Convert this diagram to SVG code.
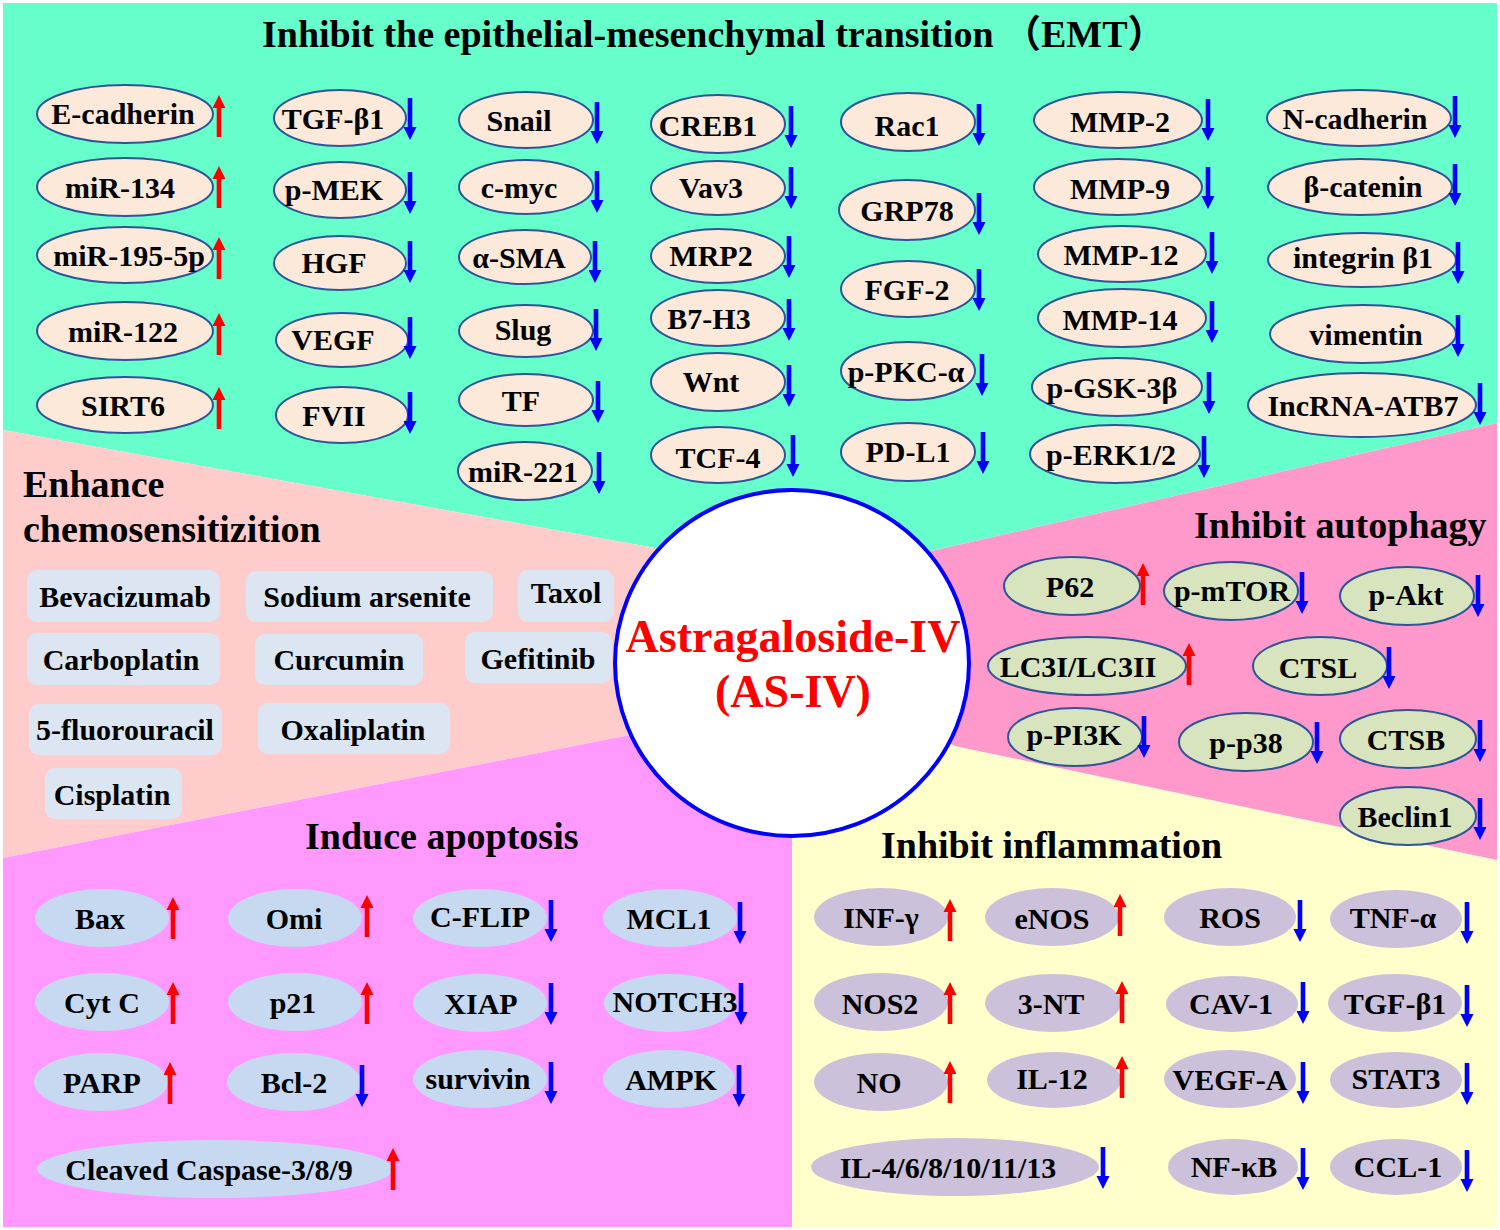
<svg xmlns="http://www.w3.org/2000/svg" xmlns:xlink="http://www.w3.org/1999/xlink" width="1500" height="1230" viewBox="0 0 1500 1230">
<style>
text{font-family:"Liberation Serif","Times New Roman","Noto Sans CJK SC",serif;font-weight:bold;font-size:30px;text-anchor:middle;fill:#000}
.title{font-size:38px;text-anchor:start}
.center{font-size:46px;fill:#FF0000}
.emt{fill:#FDE9D9;stroke:#2F5597;stroke-width:2}
.aut{fill:#D7E4BD;stroke:#2F5597;stroke-width:2}
.apo{fill:#C6D9F1}
.inf{fill:#CCC1DA}
.box{fill:#DCE6F2}
</style>
<defs>
<path id="up" d="M-2.3,42V13H-6.5L0,0L6.5,13H2.3V42Z" fill="#FF0000"/>
<path id="dn" d="M-2.3,0V29H-6.5L0,42L6.5,29H2.3V0Z" fill="#0000FF"/>
</defs>
<rect x="0" y="0" width="1500" height="1230" fill="#FFFFFF"/>
<g id="background">
<polygon points="3,3 1497,3 1497,423 931,551 792,663 655,548 3,430" fill="#66FFCC"/>
<polygon points="3,430 655,548 792,663 630,735 3,858" fill="#FFCCCC"/>
<polygon points="3,858 630,735 792,663 792,1227 3,1227" fill="#FF99FF"/>
<polygon points="792,663 955,746 1497,860 1497,1227 792,1227" fill="#FFFFCC"/>
<polygon points="931,551 1497,423 1497,860 955,746 792,663" fill="#FF99CC"/>
</g>
<g id="titles">
<text class="title" x="262" y="47">Inhibit the epithelial-mesenchymal transition （EMT）</text>
<text class="title" x="23" y="497">Enhance</text>
<text class="title" x="23" y="542">chemosensitizition</text>
<text class="title" x="1194" y="538">Inhibit autophagy</text>
<text class="title" x="305" y="849">Induce apoptosis</text>
<text class="title" x="881" y="858">Inhibit inflammation</text>
</g>
<g id="center-node">
<ellipse cx="792" cy="663" rx="177" ry="173" fill="#FFFFFF" stroke="#0000FF" stroke-width="4"/>
<text class="center" x="793" y="652">Astragaloside-IV</text>
<text class="center" x="793" y="707">(AS-IV)</text>
</g>
<g id="emt-nodes">
<g id="n-ecadherin"><ellipse class="emt" cx="125" cy="114" rx="88" ry="29"/><text x="123" y="124">E-cadherin</text><use href="#up" x="219" y="95"/></g>
<g id="n-mir134"><ellipse class="emt" cx="125" cy="187" rx="88" ry="29"/><text x="120" y="198">miR-134</text><use href="#up" x="219" y="166"/></g>
<g id="n-mir195"><ellipse class="emt" cx="125" cy="255" rx="88" ry="28"/><text x="129" y="266">miR-195-5p</text><use href="#up" x="219" y="237"/></g>
<g id="n-mir122"><ellipse class="emt" cx="125" cy="331" rx="88" ry="29"/><text x="123" y="342">miR-122</text><use href="#up" x="219" y="313"/></g>
<g id="n-sirt6"><ellipse class="emt" cx="125" cy="405" rx="88" ry="28"/><text x="123" y="416">SIRT6</text><use href="#up" x="219" y="387"/></g>

<g id="n-tgfb1"><ellipse class="emt" cx="340" cy="118" rx="66" ry="28"/><text x="333" y="129">TGF-β1</text><use href="#dn" x="410" y="98"/></g>
<g id="n-pmek"><ellipse class="emt" cx="340" cy="190" rx="66" ry="28"/><text x="334" y="200">p-MEK</text><use href="#dn" x="410" y="172"/></g>
<g id="n-hgf"><ellipse class="emt" cx="340" cy="263" rx="66" ry="27"/><text x="334" y="273">HGF</text><use href="#dn" x="410" y="241"/></g>
<g id="n-vegf"><ellipse class="emt" cx="342" cy="340" rx="66" ry="27"/><text x="333" y="350">VEGF</text><use href="#dn" x="410" y="317"/></g>
<g id="n-fvii"><ellipse class="emt" cx="342" cy="415" rx="66" ry="28"/><text x="334" y="426">FVII</text><use href="#dn" x="410" y="392"/></g>

<g id="n-snail"><ellipse class="emt" cx="526" cy="120" rx="67" ry="28"/><text x="519" y="131">Snail</text><use href="#dn" x="597" y="102"/></g>
<g id="n-cmyc"><ellipse class="emt" cx="526" cy="187" rx="67" ry="27"/><text x="519" y="198">c-myc</text><use href="#dn" x="597" y="171"/></g>
<g id="n-asma"><ellipse class="emt" cx="525" cy="257" rx="66" ry="27"/><text x="519" y="268">α-SMA</text><use href="#dn" x="595" y="241"/></g>
<g id="n-slug"><ellipse class="emt" cx="526" cy="331" rx="67" ry="26"/><text x="523" y="340">Slug</text><use href="#dn" x="596" y="309"/></g>
<g id="n-tf"><ellipse class="emt" cx="526" cy="400" rx="67" ry="26"/><text x="521" y="411">TF</text><use href="#dn" x="598" y="381"/></g>
<g id="n-mir221"><ellipse class="emt" cx="525" cy="471" rx="67" ry="29"/><text x="523" y="482">miR-221</text><use href="#dn" x="599" y="452"/></g>

<g id="n-creb1"><ellipse class="emt" cx="718" cy="124" rx="67" ry="29"/><text x="708" y="136">CREB1</text><use href="#dn" x="791" y="106"/></g>
<g id="n-vav3"><ellipse class="emt" cx="718" cy="188" rx="67" ry="27"/><text x="711" y="198">Vav3</text><use href="#dn" x="791" y="167"/></g>
<g id="n-mrp2"><ellipse class="emt" cx="718" cy="256" rx="67" ry="27"/><text x="711" y="266">MRP2</text><use href="#dn" x="789" y="236"/></g>
<g id="n-b7h3"><ellipse class="emt" cx="718" cy="318" rx="67" ry="28"/><text x="709" y="329">B7-H3</text><use href="#dn" x="789" y="299"/></g>
<g id="n-wnt"><ellipse class="emt" cx="718" cy="382" rx="67" ry="29"/><text x="711" y="392">Wnt</text><use href="#dn" x="789" y="365"/></g>
<g id="n-tcf4"><ellipse class="emt" cx="718" cy="455" rx="67" ry="28"/><text x="718" y="468">TCF-4</text><use href="#dn" x="793" y="435"/></g>

<g id="n-rac1"><ellipse class="emt" cx="908" cy="122" rx="67" ry="29"/><text x="907" y="136">Rac1</text><use href="#dn" x="979" y="104"/></g>
<g id="n-grp78"><ellipse class="emt" cx="907" cy="210" rx="68" ry="30"/><text x="907" y="221">GRP78</text><use href="#dn" x="979" y="193"/></g>
<g id="n-fgf2"><ellipse class="emt" cx="908" cy="289" rx="67" ry="28"/><text x="907" y="300">FGF-2</text><use href="#dn" x="979" y="269"/></g>
<g id="n-ppkca"><ellipse class="emt" cx="908" cy="371" rx="67" ry="29"/><text x="906" y="382">p-PKC-α</text><use href="#dn" x="982" y="354"/></g>
<g id="n-pdl1"><ellipse class="emt" cx="908" cy="452" rx="67" ry="29"/><text x="908" y="462">PD-L1</text><use href="#dn" x="983" y="432"/></g>

<g id="n-mmp2"><ellipse class="emt" cx="1118" cy="120" rx="84" ry="28"/><text x="1120" y="132">MMP-2</text><use href="#dn" x="1208" y="99"/></g>
<g id="n-mmp9"><ellipse class="emt" cx="1118" cy="187" rx="84" ry="28"/><text x="1120" y="199">MMP-9</text><use href="#dn" x="1208" y="167"/></g>
<g id="n-mmp12"><ellipse class="emt" cx="1122" cy="254" rx="84" ry="28"/><text x="1121" y="265">MMP-12</text><use href="#dn" x="1212" y="232"/></g>
<g id="n-mmp14"><ellipse class="emt" cx="1122" cy="318" rx="84" ry="29"/><text x="1120" y="330">MMP-14</text><use href="#dn" x="1212" y="301"/></g>
<g id="n-pgsk3b"><ellipse class="emt" cx="1117" cy="387" rx="85" ry="29"/><text x="1112" y="398">p-GSK-3β</text><use href="#dn" x="1209" y="372"/></g>
<g id="n-perk"><ellipse class="emt" cx="1115" cy="454" rx="85" ry="29"/><text x="1111" y="465">p-ERK1/2</text><use href="#dn" x="1204" y="436"/></g>

<g id="n-ncadherin"><ellipse class="emt" cx="1359" cy="118" rx="92" ry="28"/><text x="1355" y="129">N-cadherin</text><use href="#dn" x="1455" y="96"/></g>
<g id="n-bcatenin"><ellipse class="emt" cx="1360" cy="187" rx="92" ry="28"/><text x="1363" y="197">β-catenin</text><use href="#dn" x="1455" y="164"/></g>
<g id="n-integrin"><ellipse class="emt" cx="1362" cy="260" rx="94" ry="27"/><text x="1363" y="268">integrin β1</text><use href="#dn" x="1458" y="242"/></g>
<g id="n-vimentin"><ellipse class="emt" cx="1363" cy="334" rx="93" ry="29"/><text x="1366" y="345">vimentin</text><use href="#dn" x="1458" y="315"/></g>
<g id="n-lncrna"><ellipse class="emt" cx="1362" cy="405" rx="114" ry="32"/><text x="1363" y="416">IncRNA-ATB7</text><use href="#dn" x="1480" y="383"/></g>
</g>
<g id="chemo-nodes">
<g id="n-bevacizumab"><rect class="box" x="27" y="570" width="193" height="52" rx="10"/><text x="125" y="607">Bevacizumab</text></g>
<g id="n-sodium"><rect class="box" x="246" y="571" width="247" height="51" rx="10"/><text x="367" y="607">Sodium arsenite</text></g>
<g id="n-taxol"><rect class="box" x="518" y="570" width="96" height="52" rx="10"/><text x="566" y="603">Taxol</text></g>
<g id="n-carboplatin"><rect class="box" x="27" y="633" width="193" height="52" rx="10"/><text x="121" y="670">Carboplatin</text></g>
<g id="n-curcumin"><rect class="box" x="255" y="634" width="168" height="51" rx="10"/><text x="339" y="670">Curcumin</text></g>
<g id="n-gefitinib"><rect class="box" x="465" y="632" width="147" height="51" rx="10"/><text x="538" y="669">Gefitinib</text></g>
<g id="n-fluorouracil"><rect class="box" x="29" y="704" width="193" height="51" rx="10"/><text x="125" y="740">5-fluorouracil</text></g>
<g id="n-oxaliplatin"><rect class="box" x="258" y="703" width="192" height="51" rx="10"/><text x="353" y="740">Oxaliplatin</text></g>
<g id="n-cisplatin"><rect class="box" x="45" y="768" width="137" height="51" rx="10"/><text x="112" y="805">Cisplatin</text></g>
</g>
<g id="apoptosis-nodes">
<g id="n-bax"><ellipse class="apo" cx="102" cy="918" rx="67" ry="29"/><text x="100" y="929">Bax</text><use href="#up" x="173" y="897"/></g>
<g id="n-omi"><ellipse class="apo" cx="295" cy="918" rx="67" ry="29"/><text x="294" y="929">Omi</text><use href="#up" x="367" y="895"/></g>
<g id="n-cflip"><ellipse class="apo" cx="480" cy="918" rx="67" ry="29"/><text x="480" y="927">C-FLIP</text><use href="#dn" x="551" y="900"/></g>
<g id="n-mcl1"><ellipse class="apo" cx="670" cy="918" rx="67" ry="29"/><text x="669" y="929">MCL1</text><use href="#dn" x="740" y="902"/></g>
<g id="n-cytc"><ellipse class="apo" cx="102" cy="1002" rx="67" ry="29"/><text x="102" y="1013">Cyt C</text><use href="#up" x="173" y="982"/></g>
<g id="n-p21"><ellipse class="apo" cx="295" cy="1002" rx="67" ry="29"/><text x="293" y="1013">p21</text><use href="#up" x="367" y="982"/></g>
<g id="n-xiap"><ellipse class="apo" cx="480" cy="1003" rx="67" ry="29"/><text x="481" y="1014">XIAP</text><use href="#dn" x="551" y="983"/></g>
<g id="n-notch3"><ellipse class="apo" cx="670" cy="1003" rx="66" ry="29"/><text x="675" y="1012">NOTCH3</text><use href="#dn" x="741" y="983"/></g>
<g id="n-parp"><ellipse class="apo" cx="101" cy="1082" rx="67" ry="29"/><text x="102" y="1093">PARP</text><use href="#up" x="170" y="1062"/></g>
<g id="n-bcl2"><ellipse class="apo" cx="294" cy="1082" rx="67" ry="29"/><text x="294" y="1093">Bcl-2</text><use href="#dn" x="362" y="1065"/></g>
<g id="n-survivin"><ellipse class="apo" cx="480" cy="1079" rx="67" ry="29"/><text x="478" y="1089">survivin</text><use href="#dn" x="551" y="1062"/></g>
<g id="n-ampk"><ellipse class="apo" cx="669" cy="1079" rx="66" ry="29"/><text x="671" y="1090">AMPK</text><use href="#dn" x="739" y="1065"/></g>
<g id="n-caspase"><ellipse class="apo" cx="215" cy="1169" rx="178" ry="29"/><text x="209" y="1180">Cleaved Caspase-3/8/9</text><use href="#up" x="393" y="1148"/></g>
</g>
<g id="inflammation-nodes">
<g id="n-infg"><ellipse class="inf" cx="881" cy="917" rx="67" ry="29"/><text x="881" y="928">INF-γ</text><use href="#up" x="950" y="899"/></g>
<g id="n-enos"><ellipse class="inf" cx="1052" cy="917" rx="67" ry="29"/><text x="1052" y="929">eNOS</text><use href="#up" x="1120" y="894"/></g>
<g id="n-ros"><ellipse class="inf" cx="1230" cy="917" rx="66" ry="29"/><text x="1230" y="928">ROS</text><use href="#dn" x="1300" y="900"/></g>
<g id="n-tnfa"><ellipse class="inf" cx="1396" cy="919" rx="66" ry="29"/><text x="1393" y="928">TNF-α</text><use href="#dn" x="1467" y="902"/></g>
<g id="n-nos2"><ellipse class="inf" cx="881" cy="1002" rx="67" ry="29"/><text x="880" y="1014">NOS2</text><use href="#up" x="950" y="982"/></g>
<g id="n-3nt"><ellipse class="inf" cx="1053" cy="1003" rx="68" ry="29"/><text x="1051" y="1014">3-NT</text><use href="#up" x="1122" y="981"/></g>
<g id="n-cav1"><ellipse class="inf" cx="1232" cy="1004" rx="66" ry="28"/><text x="1231" y="1014">CAV-1</text><use href="#dn" x="1303" y="982"/></g>
<g id="n-tgfb1b"><ellipse class="inf" cx="1395" cy="1003" rx="67" ry="29"/><text x="1395" y="1014">TGF-β1</text><use href="#dn" x="1467" y="985"/></g>
<g id="n-no"><ellipse class="inf" cx="881" cy="1082" rx="67" ry="29"/><text x="879" y="1093">NO</text><use href="#up" x="950" y="1061"/></g>
<g id="n-il12"><ellipse class="inf" cx="1054" cy="1080" rx="67" ry="28"/><text x="1052" y="1089">IL-12</text><use href="#up" x="1122" y="1056"/></g>
<g id="n-vegfa"><ellipse class="inf" cx="1230" cy="1079" rx="66" ry="29"/><text x="1230" y="1090">VEGF-A</text><use href="#dn" x="1303" y="1062"/></g>
<g id="n-stat3"><ellipse class="inf" cx="1396" cy="1080" rx="66" ry="28"/><text x="1396" y="1089">STAT3</text><use href="#dn" x="1467" y="1063"/></g>
<g id="n-il4"><ellipse class="inf" cx="955" cy="1167" rx="144" ry="29"/><text x="948" y="1178">IL-4/6/8/10/11/13</text><use href="#dn" x="1103" y="1147"/></g>
<g id="n-nfkb"><ellipse class="inf" cx="1233" cy="1167" rx="65" ry="28"/><text x="1234" y="1177">NF-κB</text><use href="#dn" x="1303" y="1148"/></g>
<g id="n-ccl1"><ellipse class="inf" cx="1396" cy="1167" rx="66" ry="28"/><text x="1398" y="1177">CCL-1</text><use href="#dn" x="1467" y="1150"/></g>
</g>
<g id="autophagy-nodes">
<g id="n-p62"><ellipse class="aut" cx="1072" cy="586" rx="68" ry="29"/><text x="1070" y="597">P62</text><use href="#up" x="1143" y="563"/></g>
<g id="n-pmtor"><ellipse class="aut" cx="1231" cy="591" rx="67" ry="29"/><text x="1232" y="601">p-mTOR</text><use href="#dn" x="1302" y="572"/></g>
<g id="n-pakt"><ellipse class="aut" cx="1407" cy="596" rx="67" ry="29"/><text x="1406" y="605">p-Akt</text><use href="#dn" x="1478" y="575"/></g>
<g id="n-lc3"><ellipse class="aut" cx="1087" cy="666" rx="99" ry="29"/><text x="1078" y="677">LC3I/LC3II</text><use href="#up" x="1189" y="643"/></g>
<g id="n-ctsl"><ellipse class="aut" cx="1320" cy="666" rx="67" ry="29"/><text x="1318" y="678">CTSL</text><use href="#dn" x="1389" y="647"/></g>
<g id="n-ppi3k"><ellipse class="aut" cx="1075" cy="737" rx="67" ry="29"/><text x="1074" y="745">p-PI3K</text><use href="#dn" x="1144" y="716"/></g>
<g id="n-pp38"><ellipse class="aut" cx="1246" cy="742" rx="67" ry="29"/><text x="1246" y="753">p-p38</text><use href="#dn" x="1317" y="722"/></g>
<g id="n-ctsb"><ellipse class="aut" cx="1408" cy="739" rx="68" ry="29"/><text x="1406" y="750">CTSB</text><use href="#dn" x="1480" y="720"/></g>
<g id="n-beclin1"><ellipse class="aut" cx="1408" cy="816" rx="68" ry="29"/><text x="1405" y="827">Beclin1</text><use href="#dn" x="1480" y="798"/></g>
</g>
</svg>
